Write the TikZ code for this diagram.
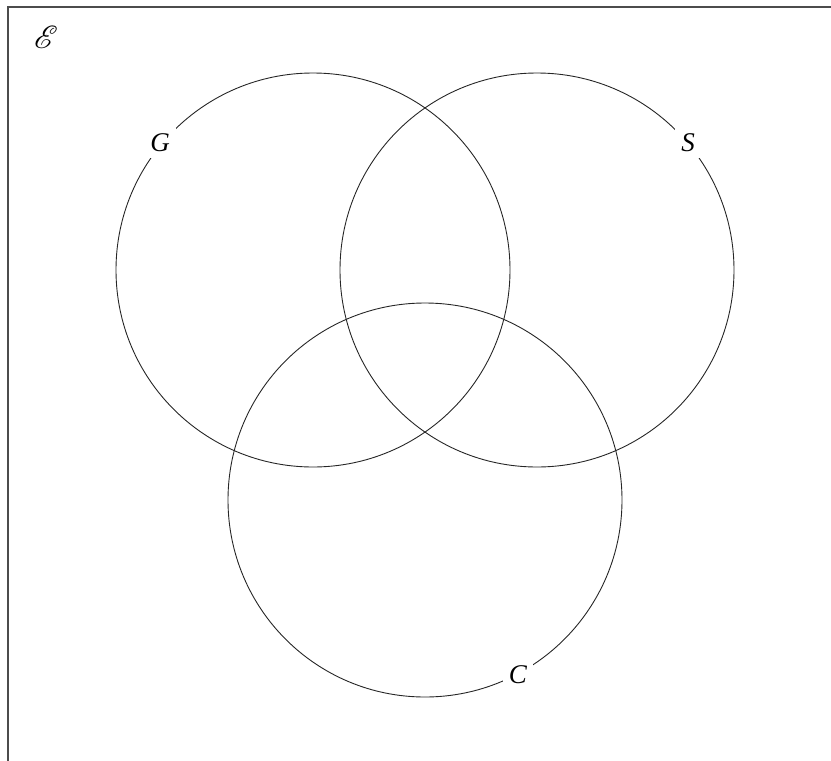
\documentclass[tikz,border=0pt]{standalone}
\usepackage{mathrsfs}
\usepackage{fontspec}
\setmainfont{Liberation Serif}
\usetikzlibrary{positioning}
\tikzset{
  set/.style={circle,draw=black!85,line width=0.9pt,minimum size=394pt,inner sep=0pt},
  lab/.style={fill=white,inner sep=6pt,font=\fontsize{27}{30}\selectfont\itshape},
  frame/.style={draw=black!70,line width=2pt},
}

\begin{document}
\begin{tikzpicture}[x=1pt,y=-1pt]
\useasboundingbox (0,0) rectangle (831,761);
\clip (0,0) rectangle (831,761);
\draw[frame] (8,7) rectangle (860,790);
\node[scale=3.2] (univ) at (46,37) {$\mathscr{E}$};
% the three sets
\node[set] (G) at (313,270) {};
\node[set] (S) at (537,270) {};
\node[set] (C) at (425,500) {};
\node[lab] (Glab) at (160,143) {G};
\node[lab] (Slab) at (688,143) {S};
\node[lab] (Clab) at (518,675) {C};
\end{tikzpicture}
\end{document}
